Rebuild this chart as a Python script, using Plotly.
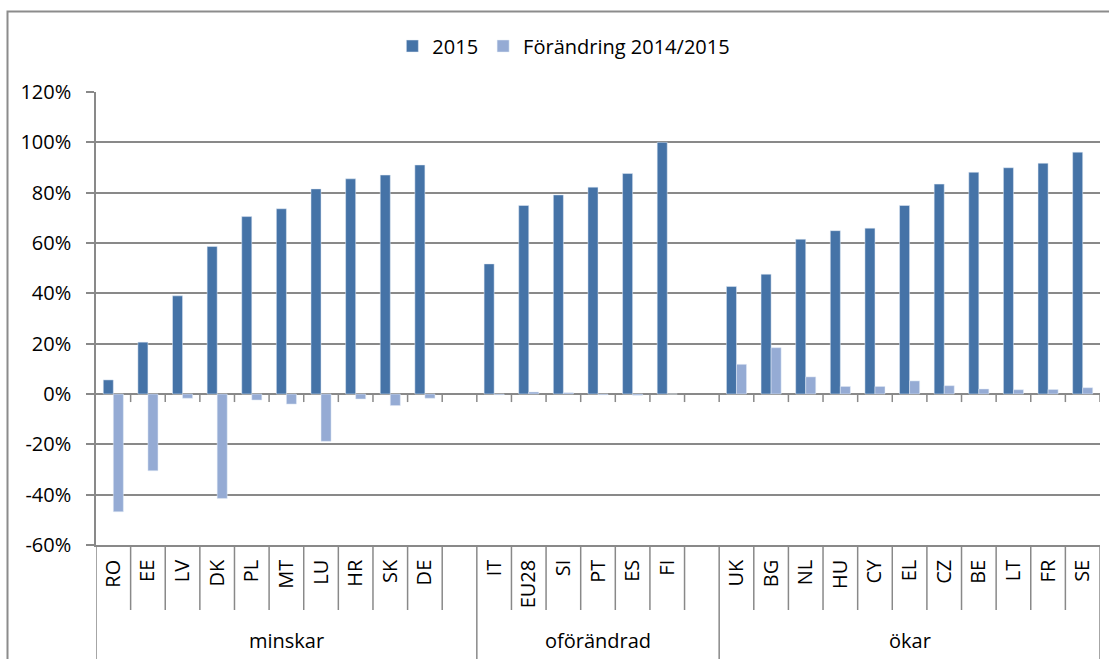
import plotly.graph_objects as go

# Country codes per group (an empty slot closes the first two groups)
group_names = ["minskar", "oförändrad", "ökar"]
countries_minskar = ["RO", "EE", "LV", "DK", "PL", "MT", "LU", "HR", "SK", "DE"]
countries_oforandrad = ["IT", "EU28", "SI", "PT", "ES", "FI"]
countries_okar = ["UK", "BG", "NL", "HU", "CY", "EL", "CZ", "BE", "LT", "FR", "SE"]

# Share 2015 (%)
share_minskar = [5.6, 20.6, 39.0, 58.6, 70.5, 73.6, 81.5, 85.5, 87.0, 91.0]
share_oforandrad = [51.7, 74.9, 79.1, 82.2, 87.6, 100.0]
share_okar = [42.7, 47.6, 61.5, 64.9, 65.9, 74.9, 83.4, 88.1, 89.9, 91.7, 96.1]

# Change 2014/2015 (percentage points)
change_minskar = [-46.8, -30.5, -1.7, -41.5, -2.4, -4.0, -18.8, -2.0, -4.6, -1.7]
change_oforandrad = [-0.3, 0.8, 0.5, -0.3, -0.5, 0.0]
change_okar = [11.8, 18.4, 6.8, 3.0, 3.0, 5.2, 3.3, 2.0, 1.7, 1.8, 2.5]

y_ticks = [-60, -40, -20, 0, 20, 40, 60, 80, 100, 120]
y_tick_text = [f"{v}%" for v in y_ticks]

series_names = ["2015", "Förändring 2014/2015"]
colors = ["#4573A7", "#95ABD4"]

# Assemble the category axis, with a blank slot after the first two groups
groups = [
    (countries_minskar, share_minskar, change_minskar, True),
    (countries_oforandrad, share_oforandrad, change_oforandrad, True),
    (countries_okar, share_okar, change_okar, False),
]
cats, share, change, group_spans = [], [], [], []
blank_n = 0
for codes, s, c, pad in groups:
    start = len(cats)
    cats += codes
    share += s
    change += c
    if pad:
        blank_n += 1
        cats.append(" " * blank_n)
        share.append(None)
        change.append(None)
    group_spans.append((start - 0.5, len(cats) - 0.5))

n = len(cats)
grey = "#898989"
font = "Open Sans"
fsize = 20

fig = go.Figure()
fig.add_trace(go.Bar(x=cats, y=share, name=series_names[0], marker_color=colors[0]))
fig.add_trace(go.Bar(x=cats, y=change, name=series_names[1], marker_color=colors[1]))

# Plot-area geometry in pixels
W, H = 1109, 659
L, R, T, B = 96, 1100, 92, 545
pw, ph = R - L, B - T


def py(p):
    """pixel row -> paper y"""
    return (B - p) / ph


def px(p):
    """pixel column -> paper x"""
    return (p - L) / pw


shapes = []
# outer chart border (top and left visible)
shapes.append(dict(type="rect", xref="paper", yref="paper",
                   x0=px(7.5), x1=px(W + 20), y0=py(H + 20), y1=py(11.5),
                   line=dict(color="#8C8C8C", width=2), layer="below"))

group_edges = set()
for a, b in group_spans:
    group_edges.add(a)
    group_edges.add(b)

for k in range(n + 1):
    xb = k - 0.5
    # tick marks hanging below the zero line
    if k > 0:
        shapes.append(dict(type="line", xref="x", yref="y", x0=xb, x1=xb,
                           y0=0, y1=-3.2, line=dict(color=grey, width=1.5)))
    # separators of the category label table
    bottom = py(H + 5) if xb in group_edges else py(610)
    shapes.append(dict(type="line", xref="x", yref="paper", x0=xb, x1=xb,
                       y0=0, y1=bottom, line=dict(color=grey, width=1.5)))

annotations = []
for name, (a, b) in zip(group_names, group_spans):
    annotations.append(dict(x=(a + b) / 2, y=py(640), xref="x", yref="paper",
                            text=name, showarrow=False,
                            font=dict(family=font, size=fsize, color="#000000"),
                            xanchor="center", yanchor="middle"))

fig.update_layout(
    width=W, height=H,
    margin=dict(l=L, r=W - R, t=T, b=H - B, pad=0),
    paper_bgcolor="white", plot_bgcolor="white",
    barmode="group", bargap=0.42, bargroupgap=0,
    font=dict(family=font, size=fsize, color="#000000"),
    showlegend=True,
    legend=dict(orientation="h", x=0.466, xanchor="center", y=py(46),
                yanchor="middle", font=dict(family=font, size=fsize),
                itemclick=False, bgcolor="rgba(0,0,0,0)"),
    shapes=shapes,
    annotations=annotations,
    xaxis=dict(type="category", categoryorder="array", categoryarray=cats,
               range=[-0.5, n - 0.5], tickangle=-90, ticks="",
               showgrid=False, showline=True, linecolor=grey, linewidth=1.5,
               zeroline=False, ticklabelstandoff=5,
               tickfont=dict(family=font, size=fsize, color="#000000")),
    yaxis=dict(range=[-60, 120], tickmode="array", tickvals=y_ticks,
               ticktext=y_tick_text,
               showgrid=True, gridcolor=grey, gridwidth=1.5,
               zeroline=True, zerolinecolor=grey, zerolinewidth=1.5,
               showline=True, linecolor=grey, linewidth=1.5,
               ticks="outside", ticklen=8, tickcolor=grey, tickwidth=1.5,
               ticklabelstandoff=11,
               tickfont=dict(family=font, size=fsize, color="#000000")),
)

fig.write_html("out.html")
